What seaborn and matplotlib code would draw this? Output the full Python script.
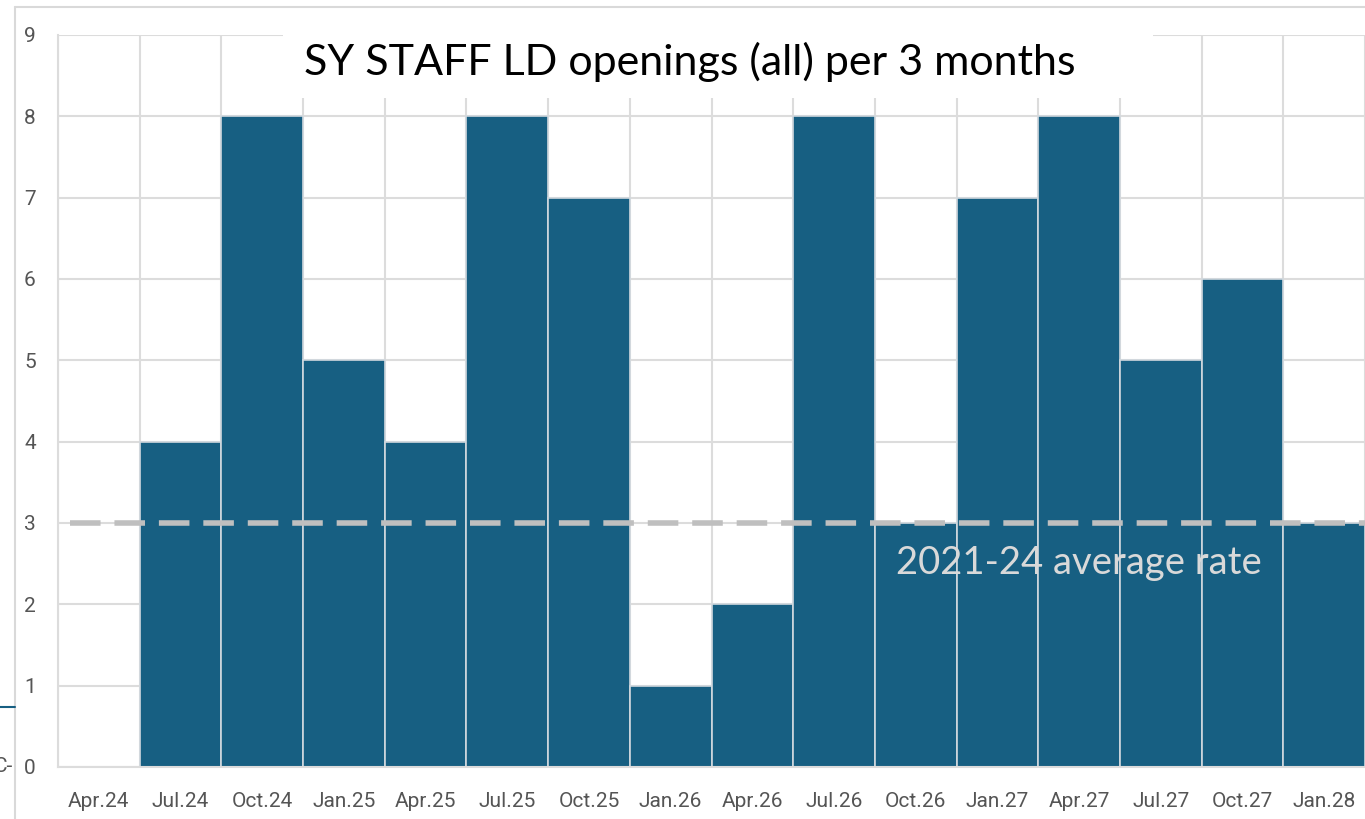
import matplotlib.pyplot as plt
import seaborn as sns
import pandas as pd
from matplotlib.patches import Rectangle
from matplotlib.lines import Line2D

quarters = ['Apr.24', 'Jul.24', 'Oct.24', 'Jan.25', 'Apr.25', 'Jul.25', 'Oct.25', 'Jan.26',
            'Apr.26', 'Jul.26', 'Oct.26', 'Jan.27', 'Apr.27', 'Jul.27', 'Oct.27', 'Jan.28']
openings = [0, 4, 8, 5, 4, 8, 7, 1, 2, 8, 3, 7, 8, 5, 6, 3]
average_rate = 3
title = 'SY STAFF LD openings (all) per 3 months'
avg_label = '2021-24 average rate'

df = pd.DataFrame({'quarter': quarters, 'openings': openings})

sns.set_style('white')
plt.rcParams['font.family'] = ['Roboto', 'DejaVu Sans']

W, H = 1365, 819
fig = plt.figure(figsize=(W / 100, H / 100), dpi=100)
ax = fig.add_axes([58 / W, 1 - 767 / H, 1 - 58 / W, (767 - 35) / H])

bar_color = '#175f82'
grid_color = '#dcdcdc'

sns.barplot(data=df, x='quarter', y='openings', color=bar_color, width=1.0,
            edgecolor='#d0d8de', linewidth=1.2, saturation=1, ax=ax, zorder=2)

ax.set_xlim(-0.5, len(quarters) - 0.5)
ax.set_ylim(0, 9)
ax.set_yticks(range(0, 10))
ax.set_xticks(range(len(quarters)))
ax.set_xticklabels(quarters)
ax.set_xticks([i + 0.5 for i in range(-1, len(quarters))], minor=True)
ax.grid(axis='y', which='major', color=grid_color, linewidth=1.5, zorder=0)
ax.grid(axis='x', which='minor', color=grid_color, linewidth=1.5, zorder=0)
ax.grid(axis='x', which='major', visible=False)
ax.set_axisbelow(True)
ax.tick_params(axis='both', which='both', length=0, labelsize=15, labelcolor='#555555')
ax.tick_params(axis='x', pad=18)
ax.tick_params(axis='y', pad=16)
ax.set_xlabel('')
ax.set_ylabel('')
for s in ['top', 'right']:
    ax.spines[s].set_visible(False)
for s in ['left', 'bottom']:
    ax.spines[s].set_color(grid_color)
    ax.spines[s].set_linewidth(1.5)

ax.axhline(average_rate, xmin=12 / (W - 58), color='#bfbfbf', linewidth=4,
           dashes=(5.5, 2.5), zorder=3)
ax.text(12.0, 2.51, avg_label, ha='center', va='center', fontsize=27.5,
        color='#d9d9d9', family=['Lato', 'DejaVu Sans'], zorder=4)

# white title box over the top of the plot
fig.patches.append(Rectangle((283 / W, 1 - 98 / H), (1153 - 283) / W, (98 - 18) / H,
                             transform=fig.transFigure, facecolor='white',
                             edgecolor='none', zorder=5))
fig.text(690 / W, 1 - 62 / H, title, ha='center', va='center', fontsize=31,
         color='black', family=['Lato', 'DejaVu Sans'], zorder=6)

# outer frame and clipped leftovers at the left edge
fig.add_artist(Line2D([15 / W, 1], [1 - 7 / H, 1 - 7 / H], color='#d9d9d9', linewidth=1.5))
fig.add_artist(Line2D([15 / W, 15 / W], [0, 1 - 7 / H], color='#d9d9d9', linewidth=1.5))
fig.add_artist(Line2D([0, 15 / W], [1 - 707 / H, 1 - 707 / H], color=bar_color, linewidth=1.5))
fig.text(13 / W, 1 - 767 / H, 'C-', ha='right', va='center', fontsize=15, color='#555555')

fig.savefig('out.png', dpi=100)
